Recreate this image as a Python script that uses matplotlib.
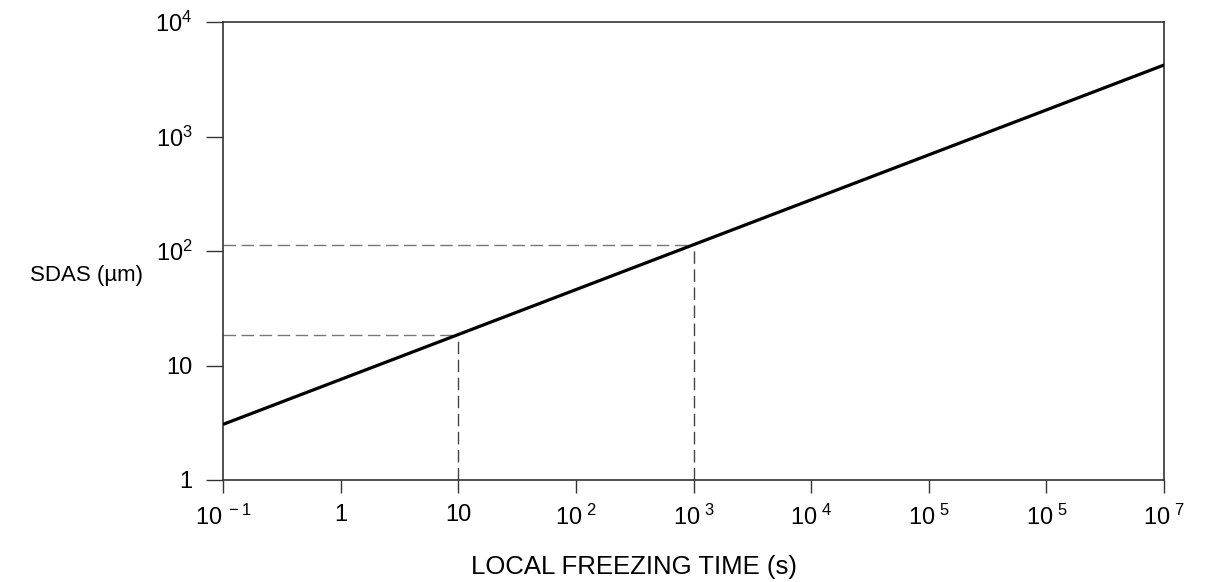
import matplotlib
matplotlib.use("Agg")
import matplotlib.pyplot as plt

# ---- data ----
x_line = [1e-1, 1e7]
y_line = [3.06, 4210.0]

x_guides = [10.0, 1000.0]
y_guides = [18.6, 113.5]

x_ticks = [1e-1, 1, 10, 1e2, 1e3, 1e4, 1e5, 1e6, 1e7]
x_tick_labels = [r"$\mathregular{10^{\ -1}}$", "1", "10",
                 r"$\mathregular{10^{\ 2}}$", r"$\mathregular{10^{\ 3}}$",
                 r"$\mathregular{10^{\ 4}}$", r"$\mathregular{10^{\ 5}}$",
                 r"$\mathregular{10^{\ 5}}$", r"$\mathregular{10^{\ 7}}$"]
y_ticks = [1, 10, 1e2, 1e3, 1e4]
y_tick_labels = ["1", "10", r"$\mathregular{10^{2}}$",
                 r"$\mathregular{10^{3}}$", r"$\mathregular{10^{4}}$"]

x_label = "LOCAL FREEZING TIME (s)"
y_label = "SDAS (\u00b5m)"

# ---- style ----
plt.rcParams["font.family"] = ["Liberation Sans", "DejaVu Sans"]
plt.rcParams["mathtext.fontset"] = "custom"
plt.rcParams["mathtext.rm"] = "Liberation Sans"
plt.rcParams["mathtext.it"] = "Liberation Sans:italic"
plt.rcParams["mathtext.bf"] = "Liberation Sans:bold"

fig = plt.figure(figsize=(12.12, 5.82), dpi=100)
ax = fig.add_axes([223 / 1212, 1 - 480 / 582, (1164 - 223) / 1212, (480 - 22) / 582])

ax.set_xscale("log")
ax.set_yscale("log")
ax.set_xlim(x_ticks[0], x_ticks[-1])
ax.set_ylim(y_ticks[0], y_ticks[-1])

# guide lines
for xg, yg in zip(x_guides, y_guides):
    ax.plot([x_ticks[0], xg], [yg, yg], color="#777777", lw=1.0,
            dashes=(9, 4), zorder=2)
    ax.plot([xg, xg], [y_ticks[0], yg], color="#444444", lw=1.0,
            dashes=(9, 4), zorder=2)

ax.plot(x_line, y_line, color="black", lw=2.3, zorder=3, solid_capstyle="butt")

ax.set_xticks(x_ticks, labels=x_tick_labels)
ax.set_yticks(y_ticks, labels=y_tick_labels)
ax.minorticks_off()
ax.tick_params(axis="both", which="major", direction="out",
               width=1.0, color="#333333", labelsize=17)
ax.tick_params(axis="x", length=9.5, pad=8)
ax.tick_params(axis="y", length=12, pad=10)

for s in ax.spines.values():
    s.set_linewidth(1.2)
    s.set_color("#333333")

ax.set_xlabel(x_label, fontsize=18.5, ha="center", va="center")
ax.xaxis.set_label_coords((634 - 223) / 941, (480 - 567) / 458)
ax.set_ylabel(y_label, fontsize=16, rotation=0, ha="left", va="center")
ax.yaxis.set_label_coords(-(223 - 30) / 941, (480 - 275) / 458)

fig.savefig("out.png", dpi=100)
